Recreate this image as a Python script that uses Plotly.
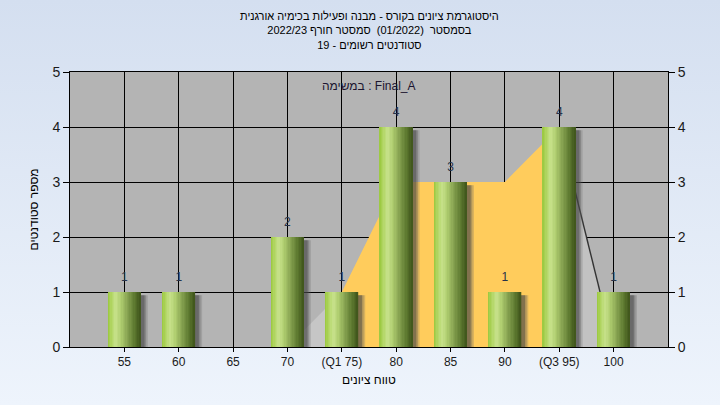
import base64
import plotly.graph_objects as go

# ---------------- data ----------------
categories = ["55", "60", "65", "70", "(Q1 75)", "80", "85", "90", "(Q3 95)", "100"]
counts = [1, 1, 0, 2, 1, 4, 3, 1, 4, 1]

lower_tail_cats = ["70", "(Q1 75)"]
lower_tail_vals = [0, 1]
iqr_cats = ["(Q1 75)", "80", "85", "90", "(Q3 95)"]
iqr_vals = [1, 3, 3, 3, 4]
upper_tail_cats = ["(Q3 95)", "100"]
upper_tail_vals = [4, 0]

title_lines = [
    "היסטוגרמת ציונים בקורס - מבנה ופעילות בכימיה אורגנית",
    "\u202bבסמסטר  (01/2022)  סמסטר חורף 2022/23\u202c",
    "\u202bסטודנטים רשומים - 19\u202c",
]
task_label = "במשימה : Final_A"
x_title = "טווח ציונים"
y_title = "מספר סטודנטים"

# ---------------- geometry / style ----------------
W, H = 720, 405
L, R, T, B = 70, 52, 72, 58
PW, PH = W - L - R, H - T - B
FONT = "Liberation Sans, Arial, sans-serif"

def py2paper(py):
    return (H - B - py) / PH

def px2paper(px):
    return (px - L) / PW

fig = go.Figure()

# background areas (main subplot, drawn beneath the overlay subplot with the bars)
fig.add_trace(go.Scatter(x=lower_tail_cats, y=lower_tail_vals, mode="lines", fill="tozeroy",
                         fillcolor="#C6C6C6", line=dict(width=0), hoverinfo="skip", showlegend=False))
fig.add_trace(go.Scatter(x=iqr_cats, y=iqr_vals, mode="lines", fill="tozeroy",
                         fillcolor="#FFCC5C", line=dict(width=0), hoverinfo="skip", showlegend=False))
fig.add_trace(go.Scatter(x=upper_tail_cats, y=upper_tail_vals, mode="lines", fill="tozeroy",
                         fillcolor="#C2C2C2", line=dict(width=1.4, color="#333333"),
                         hoverinfo="skip", showlegend=False))

bar_w = 0.6
# soft shadows
shadow_vals = [max(c - 0.06, 0) for c in counts]
for off, col in [(0.13, "rgba(100,100,100,0.25)"), (0.10, "rgba(80,80,80,0.3)"),
                 (0.07, "rgba(60,60,60,0.4)")]:
    fig.add_trace(go.Bar(x=categories, y=shadow_vals, width=bar_w, offset=-bar_w / 2 + off,
                         yaxis="y2", marker=dict(color=col, line=dict(width=0)),
                         hoverinfo="skip", showlegend=False))

# cylindrical gradient via stripes
stops = [(0.0, (152, 200, 60)), (0.12, (178, 214, 100)), (0.25, (200, 226, 140)),
         (0.4, (176, 206, 112)), (0.6, (136, 164, 82)), (0.82, (94, 122, 48)),
         (1.0, (62, 84, 26))]

def grad(t):
    for (t0, c0), (t1, c1) in zip(stops[:-1], stops[1:]):
        if t0 <= t <= t1:
            f = (t - t0) / (t1 - t0) if t1 > t0 else 0
            return "rgb(%d,%d,%d)" % tuple(round(a + (b - a) * f) for a, b in zip(c0, c1))
    return "rgb(%d,%d,%d)" % stops[-1][1]

N = 24
sw = bar_w / N
for k in range(N):
    t = (k + 0.5) / N
    fig.add_trace(go.Bar(x=categories, y=counts, width=sw * 1.05, offset=-bar_w / 2 + k * sw,
                         yaxis="y2", marker=dict(color=grad(t), line=dict(width=0)),
                         hoverinfo="skip", showlegend=False))

# value labels
lab_x = [c for c, v in zip(categories, counts) if v > 0]
lab_y = [v for v in counts if v > 0]
fig.add_trace(go.Scatter(x=lab_x, y=lab_y, mode="markers+text", text=[str(v) for v in lab_y],
                         textposition="top center", yaxis="y2",
                         marker=dict(size=12, color="rgba(0,0,0,0)"),
                         textfont=dict(family=FONT, size=12, color="#26324a"),
                         hoverinfo="skip", showlegend=False))

# background gradient image for paper
svg = ('<svg xmlns="http://www.w3.org/2000/svg" width="720" height="405">'
       '<defs><linearGradient id="g" x1="0" y1="0" x2="0" y2="1">'
       '<stop offset="0" stop-color="#d4dff0"/><stop offset="1" stop-color="#eef4fc"/>'
       '</linearGradient></defs><rect width="720" height="405" fill="url(#g)"/></svg>')
src = "data:image/svg+xml;base64," + base64.b64encode(svg.encode()).decode()

annotations = [
    dict(text="<br>".join(title_lines), x=0.5, xref="paper", y=py2paper(31), yref="paper",
         xanchor="center", yanchor="middle", showarrow=False, align="center",
         font=dict(family=FONT, size=11, color="#000000")),
    dict(text=task_label, x=0.5, xref="paper", y=py2paper(86), yref="paper",
         xanchor="center", yanchor="middle", showarrow=False,
         font=dict(family=FONT, size=12, color="#1c1430")),
    dict(text=x_title, x=0.5, xref="paper", y=py2paper(380), yref="paper",
         xanchor="center", yanchor="middle", showarrow=False,
         font=dict(family=FONT, size=12, color="#000000")),
    dict(text=y_title, x=px2paper(33), xref="paper", y=0.5, yref="paper",
         xanchor="center", yanchor="middle", showarrow=False, textangle=-90,
         font=dict(family=FONT, size=12, color="#000000")),
]

axis_font = dict(family=FONT, size=14, color="#1a1a1a")
fig.update_layout(
    width=W, height=H, margin=dict(l=L, r=R, t=T, b=B),
    paper_bgcolor="#e2eaf6", plot_bgcolor="rgba(0,0,0,0)",
    barmode="overlay", showlegend=False,
    images=[dict(source=src, xref="paper", yref="paper", x=-L / PW, y=1 + T / PH,
                 sizex=W / PW, sizey=H / PH, sizing="stretch", layer="below",
                 xanchor="left", yanchor="top")],
    shapes=[dict(type="rect", xref="paper", yref="paper", x0=0, x1=1, y0=0, y1=1,
                 fillcolor="#B4B4B4", line=dict(width=0), layer="below")],
    annotations=annotations,
    xaxis=dict(type="category", categoryorder="array", categoryarray=categories,
               range=[-1, 10], showgrid=True, gridcolor="#000000", gridwidth=1,
               showline=True, linecolor="#000000", linewidth=1, mirror=True,
               ticks="outside", ticklen=4, tickcolor="#000000",
               tickfont=dict(family=FONT, size=12, color="#1a1a1a"), zeroline=False,
               fixedrange=True),
    yaxis=dict(range=[0, 5], dtick=1, showgrid=True, gridcolor="#000000", gridwidth=1,
               showline=True, linecolor="#000000", linewidth=1,
               ticks="outside", ticklen=6, tickcolor="#000000",
               tickfont=axis_font, zeroline=False, fixedrange=True),
    yaxis2=dict(range=[0, 5], dtick=1, overlaying="y", side="right", showgrid=False,
                showline=True, linecolor="#000000", linewidth=1,
                ticks="outside", ticklen=6, tickcolor="#000000",
                tickfont=axis_font, zeroline=False, fixedrange=True),
)

fig.write_html("out.html", config={"displayModeBar": False},
               post_script="document.body.style.margin='0';document.body.style.overflow='hidden';")
